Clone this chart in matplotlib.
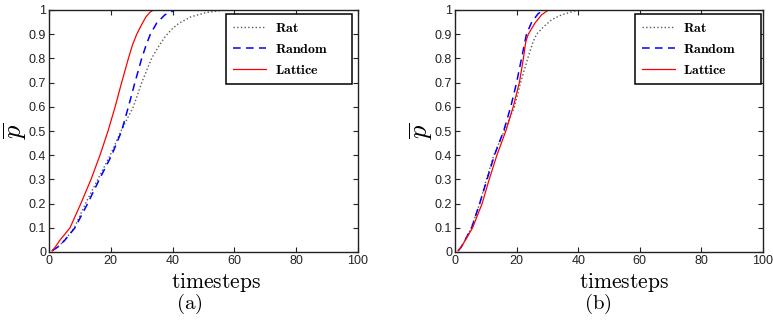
import matplotlib
matplotlib.use("Agg")
import matplotlib.pyplot as plt

plt.rcParams['mathtext.fontset'] = 'cm'
plt.rcParams['font.family'] = ['Liberation Sans', 'DejaVu Sans']

# ---- data: panel (a) ----
a_rat_t = [1, 3, 5.2, 8.2, 11.8, 15.8, 19.8, 23.3, 27.3, 30, 33.2, 35.5, 37.6, 39.7, 42, 46, 51, 57, 100]
a_rat_p = [0.005, 0.022, 0.05, 0.10, 0.20, 0.30, 0.40, 0.50, 0.60, 0.70, 0.80, 0.85, 0.89, 0.92, 0.945, 0.972, 0.99, 1.0, 1.0]
a_rnd_t = [1, 3, 5.2, 8.4, 12.5, 16.3, 20.3, 23.5, 25.7, 27.8, 30.0, 31.3, 32.8, 34.8, 37.5, 40.8, 100]
a_rnd_p = [0.005, 0.022, 0.05, 0.10, 0.20, 0.30, 0.40, 0.50, 0.60, 0.70, 0.80, 0.85, 0.90, 0.945, 0.98, 1.0, 1.0]
a_lat_t = [1, 2, 3.6, 6.8, 10.3, 13.6, 16.5, 19.1, 21.4, 23.5, 25.7, 27.0, 28.4, 30.0, 31.3, 32.6, 33.8, 100]
a_lat_p = [0.005, 0.02, 0.05, 0.10, 0.20, 0.30, 0.40, 0.50, 0.60, 0.70, 0.80, 0.855, 0.90, 0.94, 0.97, 0.99, 1.0, 1.0]

# ---- panel (b) ----
b_rat_t = [1, 2, 3.3, 5.3, 8.0, 10.2, 12.6, 16.0, 19.3, 21.3, 23.6, 25.4, 26.5, 28.7, 31.4, 34.6, 37.3, 40, 100]
b_rat_p = [0.005, 0.02, 0.05, 0.10, 0.20, 0.30, 0.40, 0.50, 0.60, 0.70, 0.80, 0.87, 0.90, 0.93, 0.96, 0.98, 0.99, 1.0, 1.0]
b_rnd_t = [1, 2, 3.3, 5.4, 8.0, 10.4, 12.8, 15.8, 18.1, 20.0, 21.6, 23.2, 24.9, 27, 28.9, 100]
b_rnd_p = [0.005, 0.02, 0.05, 0.10, 0.20, 0.30, 0.40, 0.50, 0.60, 0.70, 0.80, 0.90, 0.95, 0.985, 1.0, 1.0]
b_lat_t = [1, 2, 3.4, 5.7, 8.8, 11.1, 13.6, 16.5, 18.9, 20.9, 22.2, 23.0, 23.8, 25.9, 28.1, 30.3, 100]
b_lat_p = [0.005, 0.02, 0.05, 0.10, 0.20, 0.30, 0.40, 0.50, 0.60, 0.70, 0.80, 0.87, 0.90, 0.945, 0.98, 1.0, 1.0]

labels = [r'$\mathbf{Rat}$', r'$\mathbf{Random}$', r'$\mathbf{Lattice}$']
xticks = [0, 20, 40, 60, 80, 100]
yticks = [0, 0.1, 0.2, 0.3, 0.4, 0.5, 0.6, 0.7, 0.8, 0.9, 1.0]
ytick_labels = ['0', '0.1', '0.2', '0.3', '0.4', '0.5', '0.6', '0.7', '0.8', '0.9', '1']

fig = plt.figure(figsize=(7.73, 3.2), dpi=100)
ax_a = fig.add_axes([49 / 773, 1 - 252 / 320, 309 / 773, 242 / 320])
ax_b = fig.add_axes([455 / 773, 1 - 252 / 320, 308 / 773, 242 / 320])

panels = [
    (ax_a, (a_rat_t, a_rat_p), (a_rnd_t, a_rnd_p), (a_lat_t, a_lat_p), 0.573),
    (ax_b, (b_rat_t, b_rat_p), (b_rnd_t, b_rnd_p), (b_lat_t, b_lat_p), 0.584),
]

for ax, rat, rnd, lat, lx in panels:
    ax.plot(rat[0], rat[1], linestyle=':', color='0.35', lw=1.0, label=labels[0])
    ax.plot(rnd[0], rnd[1], linestyle=(0, (5, 3.5)), color='#0000ff', lw=1.1, label=labels[1])
    ax.plot(lat[0], lat[1], linestyle='-', color='#ff0000', lw=0.9, label=labels[2])

    ax.set_xlim(0, 100)
    ax.set_ylim(0, 1)
    ax.set_xticks(xticks)
    ax.set_yticks(yticks)
    ax.set_yticklabels(ytick_labels)
    ax.tick_params(direction='in', top=True, right=True, length=3.5, width=0.8,
                   labelsize=9, pad=2, color='#222222', labelcolor='#222222')
    for s in ax.spines.values():
        s.set_linewidth(1.0)
        s.set_color('#222222')

    ax.set_ylabel(r'$\overline{p}$', fontsize=19, labelpad=0)

    leg = ax.legend(loc='upper left', bbox_to_anchor=(lx, 0.983, 0.408, 0.0),
                    mode='expand', fontsize=10, handlelength=2.4, handletextpad=0.6,
                    labelspacing=0.5, borderpad=0.5, borderaxespad=0.0,
                    fancybox=False, framealpha=1.0, edgecolor='black')
    leg.get_frame().set_linewidth(1.1)

fig.text(216 / 773, 1 - 282 / 320, r'$\mathrm{timesteps}$', fontsize=15.5, ha='center', va='center')
fig.text(624 / 773, 1 - 282 / 320, r'$\mathrm{timesteps}$', fontsize=15.5, ha='center', va='center')
fig.text(189 / 773, 1 - 304 / 320, r'$\mathrm{(a)}$', fontsize=15, ha='center', va='center')
fig.text(598 / 773, 1 - 304 / 320, r'$\mathrm{(b)}$', fontsize=15, ha='center', va='center')

fig.savefig('out.png', dpi=100)
